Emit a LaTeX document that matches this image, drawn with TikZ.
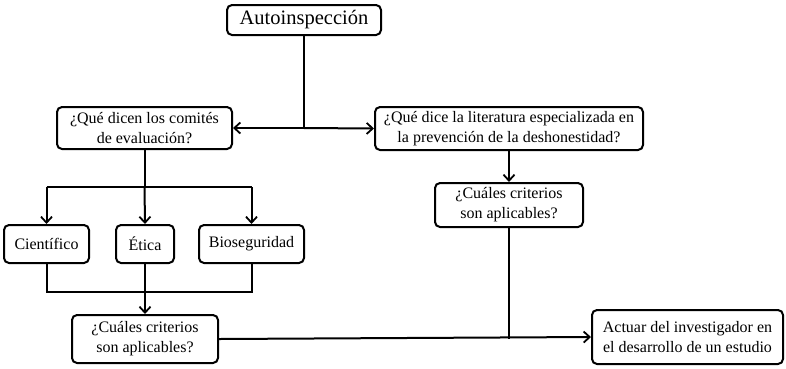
\documentclass[tikz,border=0pt]{standalone}
\usepackage{fontspec}
\setmainfont{Liberation Serif}
\usetikzlibrary{arrows.meta}
\begin{document}
\begin{tikzpicture}[x=1pt,y=-1pt,
  box/.style={draw, line width=2pt, rounded corners=5pt, inner sep=0pt, align=center,
    font=\fontsize{16}{20}\selectfont},
  conn/.style={line width=2pt},
  arr/.style={conn, -{Straight Barb[length=6pt,width=11pt,line width=1.8pt]}}]
\useasboundingbox (0,0) rectangle (786,368);
\node[box, minimum width=154pt, minimum height=30pt, font=\fontsize{20.5}{24}\selectfont] (auto) at (304,20) {Autoinspección};
\node[box, minimum width=175pt, minimum height=42pt] (comites) at (144.5,128) {¿Qué dicen los comités\\de evaluación?};
\node[box, minimum width=268pt, minimum height=43pt] (lit) at (509,128.5) {¿Qué dice la literatura especializada en\\la prevención de la deshonestidad?};
\node[box, minimum width=148pt, minimum height=44pt] (crit2) at (509,205) {¿Cuáles criterios\\son aplicables?};
\node[box, minimum width=85pt, minimum height=38pt] (cien) at (46.5,244) {Científico};
\node[box, minimum width=58pt, minimum height=38pt] (etica) at (145,244) {Ética};
\node[box, minimum width=105pt, minimum height=38pt] (bio) at (251.5,244) {Bioseguridad};
\node[box, minimum width=146pt, minimum height=48pt] (crit1) at (145,339) {¿Cuáles criterios\\son aplicables?};
\node[box, minimum width=191pt, minimum height=54pt] (actuar) at (687.5,337) {Actuar del investigador en\\el desarrollo de un estudio};
\coordinate (j1) at (auto.south |- comites.east);
\coordinate (j2) at (comites.south |- 0,187);
\coordinate (j3) at (etica.south |- 0,292);
\coordinate (j4) at (crit2.south |- crit1.east);
\draw[conn] (auto.south) -- (j1);
\draw[arr] (j1) -- (comites.east);
\draw[arr] (j1) -- (lit.west);
\draw[conn] (comites.south) -- (j2);
\draw[conn] (cien.north |- j2) -- (bio.north |- j2);
\draw[arr] (cien.north |- j2) -- (cien.north);
\draw[arr] (j2) -- (etica.north);
\draw[arr] (bio.north |- j2) -- (bio.north);
\draw[conn] (cien.south) -- (cien.south |- j3) -- (bio.south |- j3) -- (bio.south);
\draw[arr] (etica.south) -- (crit1.north);
\draw[arr] (lit.south) -- (crit2.north);
\draw[arr] (crit1.east) -- (actuar.west);
\draw[conn] (crit2.south) -- (j4);
\end{tikzpicture}
\end{document}
